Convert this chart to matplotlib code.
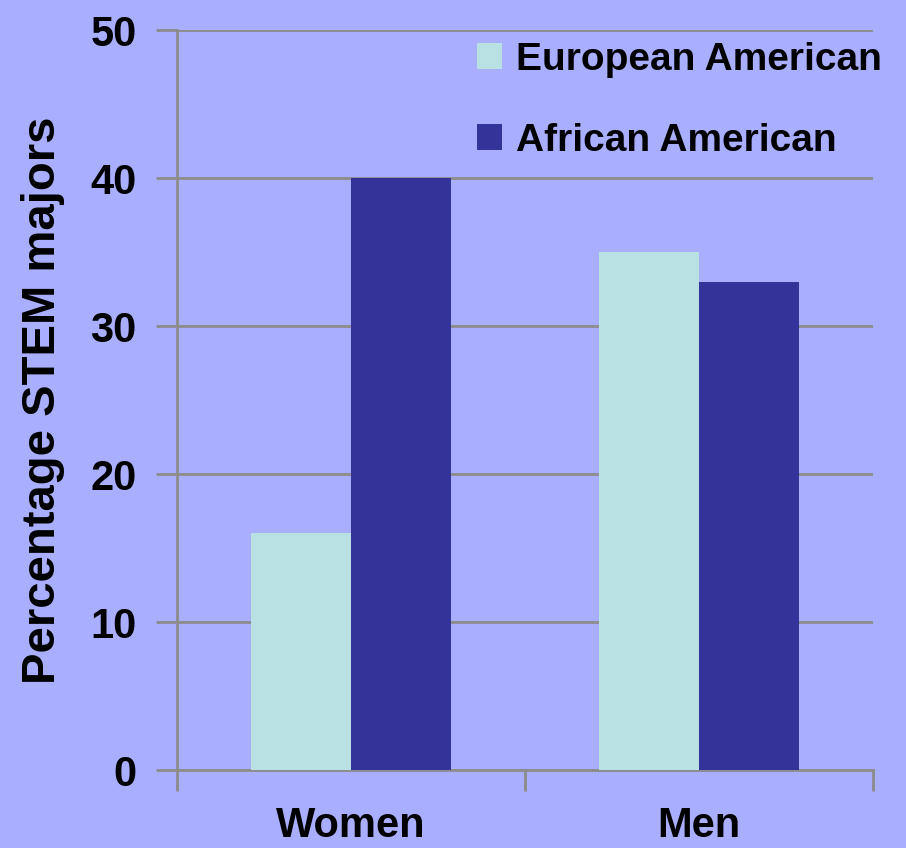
import numpy as np
import matplotlib.pyplot as plt

groups = ["Women", "Men"]
series = ["European American", "African American"]
european = [16, 35]
african = [40, 33]
colors = ["#B9E0E3", "#333399"]

plt.rcParams['font.family'] = ['Liberation Sans', 'DejaVu Sans']
plt.rcParams['font.weight'] = 'bold'
plt.rcParams['axes.labelweight'] = 'bold'

fs = 28
bg = "#AAAEFE"
grid = "#8C8C8C"
fig = plt.figure(figsize=(9.06, 8.48), dpi=100, facecolor=bg)
ax = fig.add_axes([177 / 906, 1 - 770 / 848, (873 - 177) / 906, (770 - 30) / 848])
ax.set_facecolor(bg)

x = np.arange(len(groups))
w = 100 / 348
ax.bar(x - w / 2, european, w, color=colors[0], label=series[0], zorder=3)
ax.bar(x + w / 2, african, w, color=colors[1], label=series[1], zorder=3)

ax.set_xlim(-0.5, 1.5)
ax.set_ylim(0, 50)
ax.set_yticks(range(0, 51, 10))
ax.yaxis.grid(True, color=grid, linewidth=2, zorder=0)
ax.set_axisbelow(True)

# category ticks sit on the group boundaries, labels at the centres
ax.set_xticks([-0.5, 0.5, 1.5])
ax.set_xticklabels([])
ax.set_xticks(x, minor=True)
ax.set_xticklabels(groups, minor=True, fontsize=30)
ax.tick_params(axis='x', which='minor', length=0, pad=26)
ax.tick_params(axis='x', which='major', length=15, width=2, color=grid)
ax.tick_params(axis='y', length=15, width=2, color=grid, labelsize=30, pad=14)

for side in ["top", "right"]:
    ax.spines[side].set_visible(False)
for side in ["left", "bottom"]:
    ax.spines[side].set_color(grid)
    ax.spines[side].set_linewidth(2)

ax.set_ylabel("Percentage STEM majors", fontsize=34, va='center')
ax.yaxis.set_label_coords(-0.193, 0.5)

ax.legend(loc="upper left", bbox_to_anchor=(0.431, 0.984), frameon=False,
          fontsize=fs, handlelength=0.64, handleheight=0.64, handletextpad=0.36,
          labelspacing=1.15, borderpad=0, borderaxespad=0)

fig.savefig("out.png", dpi=100, facecolor=bg)
